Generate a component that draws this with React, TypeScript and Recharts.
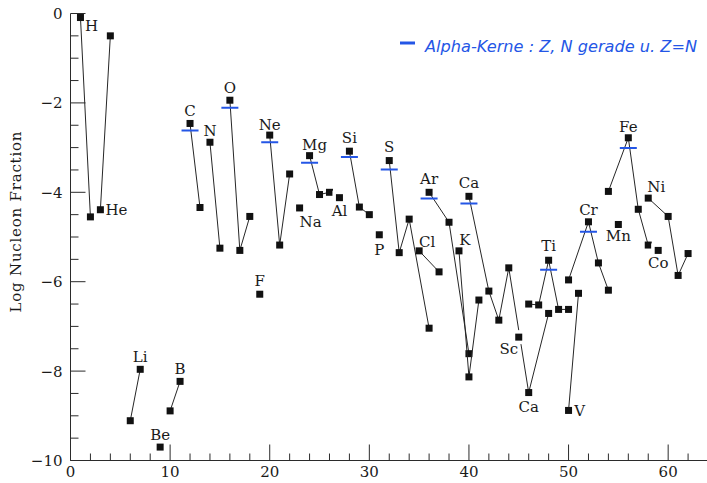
import { ScatterChart, Scatter, XAxis, YAxis } from 'recharts'

// isotopes per element: [mass number A, log nucleon fraction]
const H: [number, number][] = [[1, -0.09], [2, -4.55]]
const He: [number, number][] = [[3, -4.39], [4, -0.5]]
const Li: [number, number][] = [[6, -9.11], [7, -7.96]]
const Be: [number, number][] = [[9, -9.7]]
const B: [number, number][] = [[10, -8.89], [11, -8.23]]
const C: [number, number][] = [[12, -2.46], [13, -4.34]]
const N: [number, number][] = [[14, -2.88], [15, -5.25]]
const O: [number, number][] = [[16, -1.94], [17, -5.3], [18, -4.54]]
const F: [number, number][] = [[19, -6.28]]
const Ne: [number, number][] = [[20, -2.72], [21, -5.18], [22, -3.59]]
const Na: [number, number][] = [[23, -4.35]]
const Mg: [number, number][] = [[24, -3.18], [25, -4.05], [26, -4.0]]
const Al: [number, number][] = [[27, -4.12]]
const Si: [number, number][] = [[28, -3.08], [29, -4.33], [30, -4.5]]
const P: [number, number][] = [[31, -4.95]]
const S: [number, number][] = [[32, -3.29], [33, -5.35], [34, -4.6], [36, -7.04]]
const Cl: [number, number][] = [[35, -5.31], [37, -5.78]]
const Ar: [number, number][] = [[36, -4.0], [38, -4.67], [40, -7.61]]
const K: [number, number][] = [[39, -5.31], [40, -8.13], [41, -6.41]]
const Ca: [number, number][] = [[40, -4.09], [42, -6.21], [43, -6.86], [44, -5.69], [46, -8.48], [48, -6.71]]
const Sc: [number, number][] = [[45, -7.24]]
const Ti: [number, number][] = [[46, -6.5], [47, -6.52], [48, -5.52], [49, -6.62], [50, -6.62]]
const V: [number, number][] = [[50, -8.88], [51, -6.26]]
const Cr: [number, number][] = [[50, -5.96], [52, -4.66], [53, -5.58], [54, -6.19]]
const Mn: [number, number][] = [[55, -4.72]]
const Fe: [number, number][] = [[54, -3.98], [56, -2.78], [57, -4.38], [58, -5.18]]
const Co: [number, number][] = [[59, -5.3]]
const Ni: [number, number][] = [[58, -4.13], [60, -4.54], [61, -5.86], [62, -5.37]]

const ELEMENTS: [string, [number, number][]][] = [
    ['H', H], ['He', He], ['Li', Li], ['Be', Be], ['B', B], ['C', C], ['N', N], ['O', O],
    ['F', F], ['Ne', Ne], ['Na', Na], ['Mg', Mg], ['Al', Al], ['Si', Si], ['P', P], ['S', S],
    ['Cl', Cl], ['Ar', Ar], ['K', K], ['Ca', Ca], ['Sc', Sc], ['Ti', Ti], ['V', V], ['Cr', Cr],
    ['Mn', Mn], ['Fe', Fe], ['Co', Co], ['Ni', Ni],
]

// hand-drawn blue marks (alpha nuclei)
const ALPHA: [number, number][] = [
    [12, -2.62], [16, -2.11], [20, -2.88], [24, -3.34], [28, -3.21], [32, -3.49],
    [36, -4.14], [40, -4.25], [48, -5.73], [52, -4.88], [56, -3.01],
]

// element label -> isotope it sits next to
const LABELS: [string, number][] = [
    ['H', 1], ['He', 3], ['Li', 7], ['Be', 9], ['B', 11], ['C', 12], ['N', 14], ['O', 16],
    ['F', 19], ['Ne', 20], ['Na', 23], ['Mg', 24], ['Al', 27], ['Si', 28], ['P', 31], ['S', 32],
    ['Cl', 35], ['Ar', 36], ['K', 39], ['Ca', 40], ['Sc', 45], ['Ca', 46], ['Ti', 48], ['V', 50],
    ['Cr', 52], ['Mn', 55], ['Fe', 56], ['Co', 59], ['Ni', 58],
]
// pixel offsets of each label from its isotope
const LABEL_OFFSETS: [number, number][] = [
    [11, 8], [16, 0], [0, -13], [0, -13], [0, -13], [0, -13], [0, -12], [0, -13],
    [0, -14], [0, -11], [11, 14], [5, -11], [0, 13], [0, -14], [0, 15], [0, -14],
    [8, -9], [0, -14], [6, -11], [0, -14], [-10, 11], [0, 14], [0, -15], [11, 0],
    [0, -12], [0, 11], [0, -11], [0, 12], [8, -12],
]

const X_LABELS = [0, 10, 20, 30, 40, 50, 60]
const Y_LABELS = [0, -2, -4, -6, -8, -10]
const X_TICKS = Array.from({ length: 33 }, (_, i) => i * 2)
const Y_TICKS = Array.from({ length: 21 }, (_, i) => -10 + i * 0.5)

const AXIS = '#2b2b2b'
const BLUE = '#2456e6'
const SERIF = '"DejaVu Serif", "Liberation Serif", serif'

const toPoints = (pts: [number, number][]) => pts.map(([a, v]) => ({ a, v }))

const labelData = LABELS.map(([name, a], i) => {
    const pts = ELEMENTS.find((e) => e[0] === name)![1]
    const p = pts.find((q) => q[0] === a)!
    return { a, v: p[1], name, dx: LABEL_OFFSETS[i][0], dy: LABEL_OFFSETS[i][1] }
})

const Square = (p: any) => {
    const single = p.single
    return (
        <g>
            {single && <rect x={p.cx - 7} y={p.cy - 7} width={14} height={14} fill="#fff" />}
            <rect x={p.cx - 3.5} y={p.cy - 3.5} width={7} height={7} fill="#111" />
        </g>
    )
}

const AlphaMark = (p: any) => (
    <line x1={p.cx - 8.5} x2={p.cx + 8.5} y1={p.cy} y2={p.cy} stroke={BLUE} strokeWidth={2} />
)

const ElementLabel = (p: any) => (
    <text
        x={p.cx + p.payload.dx}
        y={p.cy + p.payload.dy + 5.5}
        textAnchor="middle"
        fontFamily={SERIF}
        fontSize={15}
        fill="#1a1a1a"
    >
        {p.payload.name}
    </text>
)

const BottomTick = (p: any) => {
    const v = p.payload.value
    const major = X_LABELS.includes(v)
    return (
        <g>
            <line x1={p.x} x2={p.x} y1={p.y} y2={p.y - (major ? 16 : 7)} stroke={AXIS} />
            {major && (
                <text x={p.x} y={p.y + 16} textAnchor="middle" fontFamily={SERIF} fontSize={15} fill="#1a1a1a">
                    {v}
                </text>
            )}
        </g>
    )
}

const TopTick = (p: any) => {
    const major = X_LABELS.includes(p.payload.value)
    return <line x1={p.x} x2={p.x} y1={p.y} y2={p.y + (major ? 15 : 7)} stroke={AXIS} />
}

const LeftTick = (p: any) => {
    const v = p.payload.value
    const major = Y_LABELS.includes(v)
    return (
        <g>
            <line x1={p.x} x2={p.x + (major ? 15 : 8)} y1={p.y} y2={p.y} stroke={AXIS} />
            {major && (
                <text x={p.x - 8} y={p.y + 5.5} textAnchor="end" fontFamily={SERIF} fontSize={15} fill="#1a1a1a">
                    {v === 0 ? '0' : '\u2212' + Math.abs(v)}
                </text>
            )}
        </g>
    )
}

const RightTick = (p: any) => {
    const major = Y_LABELS.includes(p.payload.value)
    return <line x1={p.x} x2={p.x - (major ? 15 : 8)} y1={p.y} y2={p.y} stroke={AXIS} />
}

export default function App() {
    return (
        <div style={{ position: 'absolute', left: 0, top: 0, width: 707, height: 483, overflow: 'hidden', background: '#fff' }}>
            <ScatterChart width={720} height={483} margin={{ top: 13.5, right: 12, bottom: 0, left: 10.5 }}>
                <XAxis
                    xAxisId="b"
                    type="number"
                    dataKey="a"
                    domain={[0, 64]}
                    allowDataOverflow
                    ticks={X_TICKS}
                    interval={0}
                    height={22.5}
                    tickSize={0}
                    tickMargin={0}
                    tickLine={false}
                    axisLine={{ stroke: AXIS }}
                    tick={<BottomTick />}
                />
                <XAxis
                    xAxisId="t"
                    orientation="top"
                    type="number"
                    dataKey="a"
                    domain={[0, 64]}
                    allowDataOverflow
                    ticks={X_TICKS}
                    interval={0}
                    height={0}
                    tickSize={0}
                    tickMargin={0}
                    tickLine={false}
                    axisLine={{ stroke: AXIS }}
                    tick={<TopTick />}
                />
                <YAxis
                    yAxisId="l"
                    type="number"
                    dataKey="v"
                    domain={[-10, 0]}
                    allowDataOverflow
                    ticks={Y_TICKS}
                    interval={0}
                    width={60}
                    tickSize={0}
                    tickMargin={0}
                    tickLine={false}
                    axisLine={{ stroke: AXIS }}
                    tick={<LeftTick />}
                />
                <YAxis
                    yAxisId="r"
                    orientation="right"
                    type="number"
                    dataKey="v"
                    domain={[-10, 0]}
                    allowDataOverflow
                    ticks={Y_TICKS}
                    interval={0}
                    width={0}
                    tickSize={0}
                    tickMargin={0}
                    tickLine={false}
                    axisLine={{ stroke: AXIS }}
                    tick={<RightTick />}
                />
                {ELEMENTS.map(([name, pts]) => (
                    <Scatter
                        key={name}
                        name={name}
                        xAxisId="b"
                        yAxisId="l"
                        data={toPoints(pts)}
                        line={pts.length > 1 ? { stroke: '#262626', strokeWidth: 1 } : false}
                        lineType="joint"
                        shape={(p: any) => <Square {...p} single={pts.length === 1} />}
                        isAnimationActive={false}
                    />
                ))}
                <Scatter
                    name="alpha"
                    xAxisId="b"
                    yAxisId="l"
                    data={toPoints(ALPHA)}
                    shape={<AlphaMark />}
                    isAnimationActive={false}
                />
                <Scatter
                    name="labels"
                    xAxisId="b"
                    yAxisId="l"
                    data={labelData}
                    shape={<ElementLabel />}
                    isAnimationActive={false}
                />
            </ScatterChart>
            <svg width={707} height={483} style={{ position: 'absolute', left: 0, top: 0, pointerEvents: 'none' }}>
                <text
                    transform="translate(21, 222) rotate(-90)"
                    textAnchor="middle"
                    fontFamily={SERIF}
                    fontSize={15}
                    textLength={181}
                    lengthAdjust="spacing"
                    fill="#1a1a1a"
                >
                    Log Nucleon Fraction
                </text>
                <line x1={400} x2={415} y1={43} y2={43} stroke={BLUE} strokeWidth={3} />
                <text
                    x={425}
                    y={52}
                    fontFamily='"DejaVu Sans", sans-serif'
                    fontStyle="italic"
                    fontSize={16}
                    textLength={272}
                    lengthAdjust="spacingAndGlyphs"
                    fill={BLUE}
                >
                    Alpha-Kerne : Z, N gerade u. Z=N
                </text>
            </svg>
        </div>
    )
}
